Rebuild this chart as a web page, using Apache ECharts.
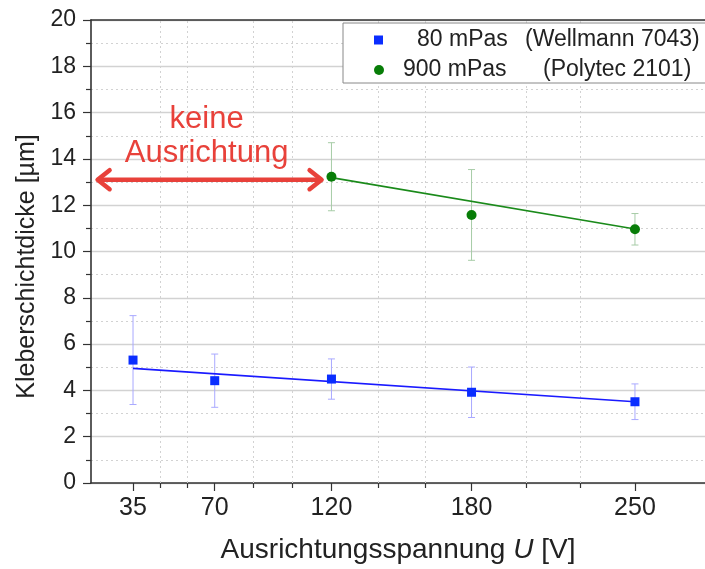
<!DOCTYPE html>
<html>
<head>
<meta charset="utf-8">
<script src="https://cdn.jsdelivr.net/npm/echarts@6/dist/echarts.min.js"></script>
<style>
  html, body { margin: 0; padding: 0; background: #fff; }
  #chart { width: 705px; height: 569px; }
</style>
</head>
<body>
<div id="chart"></div>
<script>
// Voltage levels and measured adhesive layer thickness (mean ± SD)
const voltages80 = [35, 70, 120, 180, 250];
const thickness80 = [5.31, 4.42, 4.49, 3.92, 3.51];
const sd80 = [1.92, 1.15, 0.87, 1.09, 0.77];

const voltages900 = [120, 180, 250];
const thickness900 = [13.23, 11.58, 10.96];
const sd900 = [1.47, 1.96, 0.68];

// Linear fits
const fit80 = [[35, 4.95], [250, 3.51]];
const fit900 = [[120, 13.19], [250, 10.97]];

// Axis ticks
const xMajorTicks = [35, 70, 120, 180, 250];
const xMinorTicks = [46.67, 58.33, 86.67, 103.33, 140, 160, 203.33, 226.67];

// Region without alignment (arrow from .. to, at height)
const noAlignRange = [19.4, 116.2, 13.1];
const noAlignText = 'keine\nAusrichtung';

const name80 = '80 mPas';
const name900 = '900 mPas';
const maker80 = '(Wellmann 7043)';
const maker900 = '(Polytec 2101)';

const FONT = '"Liberation Sans", Arial, Helvetica, sans-serif';
const TXT = '#222';
const AXIS = '#333';
const GRID = '#d2d2d2';
const BLUE = '#0a2dff';
const GREEN = '#077d07';

const chart = echarts.init(document.getElementById('chart'), null, { renderer: 'canvas' });

function errorBarSeries(xs, ys, sds, color) {
  return {
    type: 'custom',
    z: 3,
    silent: true,
    data: xs.map((x, i) => [x, ys[i] - sds[i], ys[i] + sds[i]]),
    renderItem: function (params, api) {
      const lo = api.coord([api.value(0), api.value(1)]);
      const hi = api.coord([api.value(0), api.value(2)]);
      const w = 3.5;
      const style = { stroke: color, lineWidth: 1 };
      return {
        type: 'group',
        children: [
          { type: 'line', shape: { x1: lo[0], y1: lo[1], x2: hi[0], y2: hi[1] }, style: style },
          { type: 'line', shape: { x1: lo[0] - w, y1: lo[1], x2: lo[0] + w, y2: lo[1] }, style: style },
          { type: 'line', shape: { x1: hi[0] - w, y1: hi[1], x2: hi[0] + w, y2: hi[1] }, style: style }
        ]
      };
    }
  };
}

// legend entries: marker swatch, name column, manufacturer column
const legendRich = {
  sq: { width: 9, height: 9, backgroundColor: BLUE, fontSize: 1, lineHeight: 26, verticalAlign: 'middle' },
  ci: { width: 10, height: 10, backgroundColor: GREEN, borderRadius: 5, fontSize: 1, lineHeight: 26, verticalAlign: 'middle' },
  g1: { width: 34, fontSize: 23, lineHeight: 26 },
  g2: { width: 19, fontSize: 23, lineHeight: 26 },
  a: { width: 108, fontFamily: FONT, fontSize: 23, color: TXT, lineHeight: 26 },
  b: { width: 140, fontFamily: FONT, fontSize: 23, color: TXT, lineHeight: 26 },
  m: { fontFamily: FONT, fontSize: 23, color: TXT, lineHeight: 26 }
};

const option = {
  animation: false,
  backgroundColor: '#fff',
  grid: { left: 91, right: 0, top: 20, bottom: 86, containLabel: false },
  legend: {
    orient: 'vertical',
    left: 343,
    top: 23,
    z: 20,
    padding: [4, 14, 0, 25],
    itemGap: 4,
    itemWidth: 1,
    itemHeight: 10,
    borderColor: '#888',
    borderWidth: 1,
    borderRadius: 0,
    backgroundColor: '#fff',
    selectedMode: false,
    data: [
      { name: name80, icon: 'none' },
      { name: name900, icon: 'none' }
    ],
    formatter: function (n) {
      return n === name80
        ? '{sq| }{g1| }{a|' + n + '}{m|' + maker80 + '}'
        : '{ci| }{g2| }{b|' + n + '}{m|' + maker900 + '}';
    },
    textStyle: {
      fontFamily: FONT,
      fontSize: 23,
      color: TXT,
      lineHeight: 26,
      rich: legendRich
    }
  },
  xAxis: [
    {
      type: 'value',
      min: 17,
      max: 280,
      position: 'bottom',
      name: '{n|Ausrichtungsspannung }{i|U}{n| [V]}',
      nameLocation: 'middle',
      nameGap: 53,
      nameTextStyle: {
        rich: {
          n: { fontFamily: FONT, fontSize: 28, color: TXT },
          i: { fontFamily: FONT, fontSize: 28, color: TXT, fontStyle: 'italic' }
        }
      },
      axisLine: { show: true, onZero: false, lineStyle: { color: AXIS, width: 1.6 } },
      axisTick: { show: true, inside: false, length: 8, customValues: xMajorTicks, lineStyle: { color: AXIS, width: 1.2 } },
      axisLabel: { show: true, customValues: xMajorTicks, margin: 13, fontFamily: FONT, fontSize: 25, color: TXT },
      splitLine: { show: false }
    },
    {
      type: 'value',
      min: 17,
      max: 280,
      position: 'bottom',
      axisLine: { show: false },
      axisTick: { show: true, inside: false, length: 5, customValues: xMinorTicks, lineStyle: { color: AXIS, width: 1.2 } },
      axisLabel: { show: false },
      splitLine: { show: false }
    },
    {
      type: 'value',
      min: 17,
      max: 280,
      position: 'top',
      axisLine: { show: true, onZero: false, lineStyle: { color: AXIS, width: 1.6 } },
      axisTick: { show: false },
      axisLabel: { show: false },
      splitLine: { show: false }
    }
  ],
  yAxis: {
    type: 'value',
    min: 0,
    max: 20,
    interval: 2,
    name: 'Kleberschichtdicke [µm]',
    nameLocation: 'middle',
    nameRotate: 90,
    nameGap: 41,
    nameTextStyle: { fontFamily: FONT, fontSize: 25, color: TXT, padding: [0, 30, 0, 0] },
    axisLine: { show: true, onZero: false, lineStyle: { color: AXIS, width: 1.6 } },
    axisTick: { show: true, inside: false, length: 8, lineStyle: { color: AXIS, width: 1.2 } },
    minorTick: { show: true, splitNumber: 2, length: 5, lineStyle: { color: AXIS, width: 1.2 } },
    axisLabel: { margin: 15, fontFamily: FONT, fontSize: 23, color: TXT },
    splitLine: { show: true, lineStyle: { color: GRID, width: 1.3 } },
    minorSplitLine: { show: true, lineStyle: { color: GRID, width: 1, type: [2, 3] } }
  },
  series: [
    // dotted vertical grid lines at the minor x ticks
    {
      type: 'line',
      data: [],
      silent: true,
      z: 1,
      markLine: {
        silent: true,
        z: 1,
        symbol: ['none', 'none'],
        label: { show: false },
        animation: false,
        lineStyle: { color: GRID, width: 1, type: [2, 3] },
        data: xMinorTicks.map(v => ({ xAxis: v }))
      }
    },
    errorBarSeries(voltages80, thickness80, sd80, '#a9a9ff'),
    errorBarSeries(voltages900, thickness900, sd900, '#a7cca7'),
    {
      type: 'line',
      data: fit80,
      showSymbol: false,
      symbol: 'none',
      z: 4,
      lineStyle: { color: '#1a1aff', width: 1.6 }
    },
    {
      type: 'line',
      data: fit900,
      showSymbol: false,
      symbol: 'none',
      z: 4,
      lineStyle: { color: '#1a8a1a', width: 1.6 }
    },
    {
      name: name80,
      type: 'scatter',
      symbol: 'rect',
      symbolSize: 9,
      z: 5,
      itemStyle: { color: BLUE, opacity: 1 },
      data: voltages80.map((x, i) => [x, thickness80[i]])
    },
    {
      name: name900,
      type: 'scatter',
      symbol: 'circle',
      symbolSize: 10,
      z: 5,
      itemStyle: { color: GREEN, opacity: 1 },
      data: voltages900.map((x, i) => [x, thickness900[i]])
    },
    // double-headed arrow and caption for the region without alignment
    {
      type: 'custom',
      z: 6,
      silent: true,
      data: [noAlignRange],
      renderItem: function (params, api) {
        const a = api.coord([api.value(0), api.value(2)]);
        const b = api.coord([api.value(1), api.value(2)]);
        const red = '#e8413a';
        const hl = 13, hh = 9.5;
        const st = { stroke: red, lineWidth: 4.5, lineCap: 'round', lineJoin: 'round', fill: null };
        return {
          type: 'group',
          children: [
            { type: 'line', shape: { x1: a[0] + 2, y1: a[1], x2: b[0] - 2, y2: b[1] }, style: st },
            { type: 'polyline', shape: { points: [[a[0] + hl, a[1] - hh], [a[0] + 1, a[1]], [a[0] + hl, a[1] + hh]] }, style: st },
            { type: 'polyline', shape: { points: [[b[0] - hl, b[1] - hh], [b[0] - 1, b[1]], [b[0] - hl, b[1] + hh]] }, style: st },
            {
              type: 'text',
              x: (a[0] + b[0]) / 2 - 3,
              y: a[1] - 9,
              style: {
                text: noAlignText,
                fill: red,
                fontFamily: FONT,
                fontSize: 31,
                lineHeight: 34,
                align: 'center',
                verticalAlign: 'bottom'
              }
            }
          ]
        };
      }
    }
  ]
};

chart.setOption(option);
</script>
</body>
</html>
